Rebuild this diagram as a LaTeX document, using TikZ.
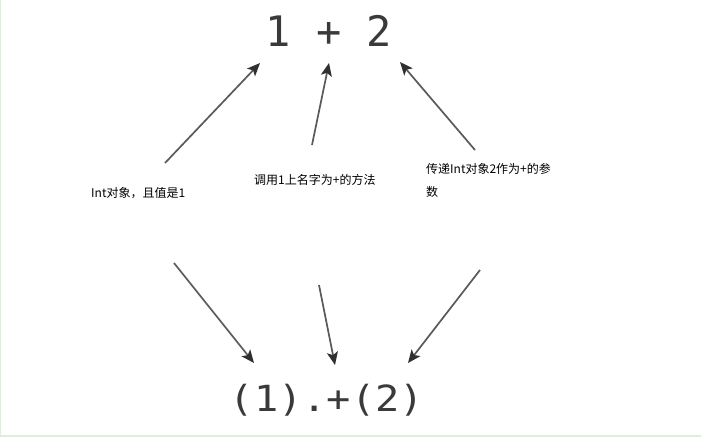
\documentclass[tikz,border=0pt]{standalone}
\usepackage{fontspec}
\newfontfamily\cjk{Noto Sans CJK SC}
\newfontfamily\mono{DejaVu Sans Mono}
\usetikzlibrary{arrows.meta}
\definecolor{bordergreen}{HTML}{DDEFD8}
\definecolor{arrowgray}{HTML}{5A5A5A}
\definecolor{tipgray}{HTML}{303030}
\definecolor{exprgray}{HTML}{3A3A3A}
\begin{document}
\begin{tikzpicture}[x=1pt,y=-1pt,
  topexpr/.style={inner sep=0pt, anchor=base, text=exprgray,
    font=\mono\fontsize{42}{42}\selectfont},
  botexpr/.style={inner sep=0pt, anchor=base, text=exprgray,
    font=\mono\fontsize{36}{36}\selectfont},
  lbl/.style={inner sep=0pt, anchor=base west, text=black,
    font=\cjk\fontsize{12}{23}\selectfont, align=left},
  arr/.style={draw=arrowgray, line width=1.7pt,
    -{Stealth[length=13pt,width=11pt,inset=3pt,color=tipgray,fill=tipgray]}}
]
\useasboundingbox (0,0) rectangle (701,437);
\fill[white] (0,0) rectangle (701,437);
\fill[bordergreen] (0,0) rectangle (1.3,437);
\fill[bordergreen] (0,434.5) rectangle (701,437);

\node[topexpr] (top) at (329,46) {1 + 2};
\node[botexpr] (bot) at (327,411) {\scalebox{1.12}[1]{(1).+(2)}};

\node[lbl] (l1) at (91,197) {Int对象，且值是1};
\node[lbl] (l2) at (254,184) {调用1上名字为+的方法};
\node[lbl] (l3) at (426,196) {传递Int对象2作为+的参\\数};

% top arrows
\coordinate (a1s) at (165,163);
\coordinate (a1e) at (260,63);
\coordinate (a2s) at (312,145);
\coordinate (a2e) at (329,63);
\coordinate (a3s) at (475,150);
\coordinate (a3e) at (400,62);
% bottom arrows
\coordinate (b1s) at (174,263);
\coordinate (b1e) at (254,363);
\coordinate (b2s) at (319,285);
\coordinate (b2e) at (335,365);
\coordinate (b3s) at (480,270);
\coordinate (b3e) at (408,363);

\draw[arr] (a1s) -- (a1e);
\draw[arr] (a2s) -- (a2e);
\draw[arr] (a3s) -- (a3e);
\draw[arr] (b1s) -- (b1e);
\draw[arr] (b2s) -- (b2e);
\draw[arr] (b3s) -- (b3e);
\end{tikzpicture}
\end{document}
